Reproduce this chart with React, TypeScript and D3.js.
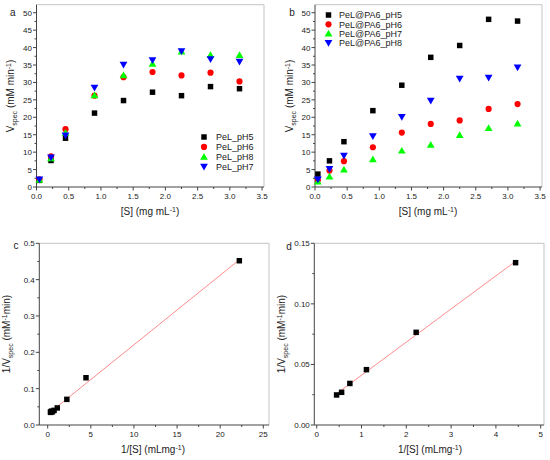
import React from "react";
import * as d3 from "d3";

// ---------- data ----------
const S_CONC = [0.045, 0.225, 0.45, 0.9, 1.35, 1.8, 2.25, 2.7, 3.15];
const A_PH5 = [1.9, 7.6, 14.0, 21.2, 24.8, 27.2, 26.2, 28.8, 28.2];
const A_PH6 = [2.2, 8.8, 16.6, 26.2, 31.5, 33.0, 32.0, 32.8, 30.3];
const A_PH8 = [2.0, 8.2, 15.5, 26.3, 32.0, 35.3, 38.8, 37.8, 37.8];
const A_PH7 = [2.2, 8.5, 14.8, 28.5, 35.1, 36.4, 39.0, 36.7, 36.0];
const B_PH5 = [3.7, 7.5, 13.0, 21.9, 29.2, 37.2, 40.6, 48.1, 47.6];
const B_PH6 = [2.0, 4.7, 7.4, 11.4, 15.6, 18.1, 19.1, 22.4, 23.8];
const B_PH7 = [1.5, 3.0, 5.0, 7.9, 10.4, 12.1, 14.9, 16.9, 18.2];
const B_PH8 = [2.2, 5.2, 9.0, 14.6, 20.1, 24.8, 31.1, 31.4, 34.3];
const C_INV_S = [22.22, 4.44, 2.22, 1.11, 0.74, 0.556, 0.444, 0.37, 0.317];
const C_INV_V = [0.452, 0.13, 0.0706, 0.047, 0.0403, 0.0366, 0.0382, 0.0347, 0.0355];
const D_INV_S = [4.44, 2.22, 1.11, 0.74, 0.556, 0.444];
const D_INV_V = [0.134, 0.0765, 0.0457, 0.0343, 0.027, 0.0248];
const C_FIT_FROM = 0.74;
const D_FIT_FROM = 0.444;

const AB_X_TICKS = [0, 0.5, 1, 1.5, 2, 2.5, 3, 3.5];
const AB_X_LABELS = ["0.0", "0.5", "1.0", "1.5", "2.0", "2.5", "3.0", "3.5"];
const AB_Y_TICKS = [0, 5, 10, 15, 20, 25, 30, 35, 40, 45, 50];
const AB_Y_LABELS = AB_Y_TICKS.map(String);
const C_X_TICKS = [0, 5, 10, 15, 20, 25];
const C_X_LABELS = ["0", "5", "10", "15", "20", "25"];
const C_Y_TICKS = [0, 0.1, 0.2, 0.3, 0.4, 0.5];
const C_Y_LABELS = ["0.0", "0.1", "0.2", "0.3", "0.4", "0.5"];
const D_X_TICKS = [0, 1, 2, 3, 4, 5];
const D_X_LABELS = ["0", "1", "2", "3", "4", "5"];
const D_Y_TICKS = [0, 0.05, 0.1, 0.15];
const D_Y_LABELS = ["0.00", "0.05", "0.10", "0.15"];

const A_NAMES = ["PeL_pH5", "PeL_pH6", "PeL_pH8", "PeL_pH7"];
const B_NAMES = ["PeL@PA6_pH5", "PeL@PA6_pH6", "PeL@PA6_pH7", "PeL@PA6_pH8"];

// ---------- styles ----------
const FONT = "Liberation Sans, Arial, sans-serif";
const TXT = "#222";
const COL = { black: "#000000", red: "#ff0000", green: "#00ff00", blue: "#0000ff" };
const FIT_COL = "#ff8c8c";

type Shape = "square" | "circle" | "up" | "down";
type Series = { xs: number[]; ys: number[]; shape: Shape; color: string; name?: string };

function symbolPath(shape: Shape) {
  if (shape === "square") return d3.symbol(d3.symbolSquare, 30)()!;
  if (shape === "circle") return d3.symbol(d3.symbolCircle, 30)()!;
  return d3.symbol(d3.symbolTriangle, 26)()!;
}

function Marker({ x, y, shape, color }: { x: number; y: number; shape: Shape; color: string }) {
  const rot = shape === "down" ? " rotate(180)" : "";
  const dy = shape === "up" ? 0.6 : shape === "down" ? -0.6 : 0;
  return <path d={symbolPath(shape)} transform={`translate(${x},${y + dy})${rot}`} fill={color} />;
}

function linfit(xs: number[], ys: number[]) {
  const mx = d3.mean(xs)!;
  const my = d3.mean(ys)!;
  let sxy = 0, sxx = 0;
  xs.forEach((x, i) => {
    sxy += (x - mx) * (ys[i] - my);
    sxx += (x - mx) * (x - mx);
  });
  const slope = sxy / sxx;
  return { slope, intercept: my - slope * mx };
}

type PanelProps = {
  frame: [number, number, number, number]; // left, right, top, bottom
  xDomain: [number, number];
  yDomain: [number, number];
  xTicks: number[];
  xLabels: string[];
  yTicks: number[];
  yLabels: string[];
  series: Series[];
  fit?: { from: number; xs: number[]; ys: number[] };
  legend?: { x: number; tx: number; y0: number; dy: number };
};

function Panel(p: PanelProps) {
  const [l, r, t, b] = p.frame;
  const x = d3.scaleLinear().domain(p.xDomain).range([l, r]);
  const y = d3.scaleLinear().domain(p.yDomain).range([b, t]);
  const xMinor = p.xTicks.slice(0, -1).map((v, i) => (v + p.xTicks[i + 1]) / 2);
  const yMinor = p.yTicks.slice(0, -1).map((v, i) => (v + p.yTicks[i + 1]) / 2);
  let fitLine: React.ReactNode = null;
  if (p.fit) {
    const { slope, intercept } = linfit(p.fit.xs, p.fit.ys);
    const xe = d3.max(p.fit.xs)!;
    const line = d3.line<number>().x((v) => x(v)).y((v) => y(slope * v + intercept));
    fitLine = <path d={line([p.fit.from, xe])!} stroke={FIT_COL} strokeWidth={1} fill="none" />;
  }
  return (
    <g>
      <line x1={l} x2={r} y1={t} y2={t} stroke="#c4c4c4" strokeWidth={1} />
      <line x1={r} x2={r} y1={t} y2={b} stroke="#c4c4c4" strokeWidth={1} />
      <line x1={l} x2={r} y1={b} y2={b} stroke="#444" strokeWidth={1} />
      <line x1={l} x2={l} y1={t} y2={b} stroke="#444" strokeWidth={1} />
      {p.xTicks.map((v, i) => (
        <g key={"xt" + i}>
          <line x1={x(v)} x2={x(v)} y1={b} y2={b + 3.5} stroke="#444" />
          <text x={x(v)} y={b + 12} fontSize={8} textAnchor="middle" fill={TXT} fontFamily={FONT}>
            {p.xLabels[i]}
          </text>
        </g>
      ))}
      {xMinor.map((v, i) => (
        <line key={"xm" + i} x1={x(v)} x2={x(v)} y1={b} y2={b + 2} stroke="#444" />
      ))}
      {p.yTicks.map((v, i) => (
        <g key={"yt" + i}>
          <line x1={l - 3.5} x2={l} y1={y(v)} y2={y(v)} stroke="#444" />
          <text x={l - 4.5} y={y(v) + 3} fontSize={8} textAnchor="end" fill={TXT} fontFamily={FONT}>
            {p.yLabels[i]}
          </text>
        </g>
      ))}
      {yMinor.map((v, i) => (
        <line key={"ym" + i} x1={l - 2} x2={l} y1={y(v)} y2={y(v)} stroke="#444" />
      ))}
      {fitLine}
      {p.series.map((s, si) =>
        s.xs.map((xv, i) => (
          <Marker key={si + "-" + i} x={x(xv)} y={y(s.ys[i])} shape={s.shape} color={s.color} />
        ))
      )}
      {p.legend &&
        p.series.map((s, si) => (
          <g key={"lg" + si}>
            <Marker x={p.legend!.x} y={p.legend!.y0 + si * p.legend!.dy} shape={s.shape} color={s.color} />
            <text
              x={p.legend!.tx}
              y={p.legend!.y0 + si * p.legend!.dy + 3.3}
              fontSize={9}
              fill={TXT}
              fontFamily={FONT}
            >
              {s.name}
            </text>
          </g>
        ))}
    </g>
  );
}

function VTitle({ x, y }: { x: number; y: number }) {
  return (
    <text transform={`translate(${x},${y}) rotate(-90)`} textAnchor="middle" fontSize={10} fill={TXT} fontFamily={FONT}>
      V<tspan fontSize={7} dy={2.5}>spec</tspan>
      <tspan dy={-2.5}> (mM min</tspan>
      <tspan fontSize={7} dy={-3.5}>-1</tspan>
      <tspan dy={3.5}>)</tspan>
    </text>
  );
}

function InvVTitle({ x, y }: { x: number; y: number }) {
  return (
    <text transform={`translate(${x},${y}) rotate(-90)`} textAnchor="middle" fontSize={10} fill={TXT} fontFamily={FONT}>
      1/V<tspan fontSize={7} dy={2.5}>spec</tspan>
      <tspan dy={-2.5}> (mM</tspan>
      <tspan fontSize={7} dy={-3.5}>-1</tspan>
      <tspan dy={3.5}>min)</tspan>
    </text>
  );
}

function STitle({ x, y }: { x: number; y: number }) {
  return (
    <text x={x} y={y} textAnchor="middle" fontSize={10} fill={TXT} fontFamily={FONT}>
      [S] (mg mL<tspan fontSize={7} dy={-3.5}>-1</tspan>
      <tspan dy={3.5}>)</tspan>
    </text>
  );
}

function InvSTitle({ x, y }: { x: number; y: number }) {
  return (
    <text x={x} y={y} textAnchor="middle" fontSize={10} fill={TXT} fontFamily={FONT}>
      1/[S] (mLmg<tspan fontSize={7} dy={-3.5}>-1</tspan>
      <tspan dy={3.5}>)</tspan>
    </text>
  );
}

function Letter({ x, y, s }: { x: number; y: number; s: string }) {
  return (
    <text x={x} y={y} fontSize={10} textAnchor="middle" fill={TXT} fontFamily={FONT}>
      {s}
    </text>
  );
}

export default function App() {
  const aSeries: Series[] = [
    { xs: S_CONC, ys: A_PH5, shape: "square", color: COL.black, name: A_NAMES[0] },
    { xs: S_CONC, ys: A_PH6, shape: "circle", color: COL.red, name: A_NAMES[1] },
    { xs: S_CONC, ys: A_PH8, shape: "up", color: COL.green, name: A_NAMES[2] },
    { xs: S_CONC, ys: A_PH7, shape: "down", color: COL.blue, name: A_NAMES[3] },
  ];
  const bSeries: Series[] = [
    { xs: S_CONC, ys: B_PH5, shape: "square", color: COL.black, name: B_NAMES[0] },
    { xs: S_CONC, ys: B_PH6, shape: "circle", color: COL.red, name: B_NAMES[1] },
    { xs: S_CONC, ys: B_PH7, shape: "up", color: COL.green, name: B_NAMES[2] },
    { xs: S_CONC, ys: B_PH8, shape: "down", color: COL.blue, name: B_NAMES[3] },
  ];
  return (
    <svg
      width={550}
      height={460}
      viewBox="0 0 550 460"
      style={{ position: "absolute", left: 0, top: 0, background: "#fff" }}
    >
      <rect width={550} height={460} fill="#fff" />
      {/* panel a */}
      <Panel
        frame={[36.5, 264, 4.7, 187]}
        xDomain={[0, 3.53]}
        yDomain={[0, 52.3]}
        xTicks={AB_X_TICKS}
        xLabels={AB_X_LABELS}
        yTicks={AB_Y_TICKS}
        yLabels={AB_Y_LABELS}
        series={aSeries}
        legend={{ x: 204, tx: 216, y0: 137, dy: 9.9 }}
      />
      <Letter x={12.7} y={15.5} s="a" />
      <VTitle x={14} y={96} />
      <STitle x={150} y={215} />
      {/* panel b */}
      <Panel
        frame={[315, 542, 4.7, 187]}
        xDomain={[0, 3.53]}
        yDomain={[0, 52.3]}
        xTicks={AB_X_TICKS}
        xLabels={AB_X_LABELS}
        yTicks={AB_Y_TICKS}
        yLabels={AB_Y_LABELS}
        series={bSeries}
        legend={{ x: 328.5, tx: 339, y0: 15, dy: 9.3 }}
      />
      <Letter x={292} y={15.5} s="b" />
      <VTitle x={293} y={96} />
      <STitle x={428} y={215} />
      {/* panel c */}
      <Panel
        frame={[39.3, 269, 243.3, 425]}
        xDomain={[-0.974, 25.66]}
        yDomain={[0, 0.5]}
        xTicks={C_X_TICKS}
        xLabels={C_X_LABELS}
        yTicks={C_Y_TICKS}
        yLabels={C_Y_LABELS}
        series={[{ xs: C_INV_S, ys: C_INV_V, shape: "square", color: COL.black }]}
        fit={{ from: C_FIT_FROM, xs: C_INV_S, ys: C_INV_V }}
      />
      <Letter x={16} y={248.5} s="c" />
      <InvVTitle x={10} y={334} />
      <InvSTitle x={153} y={453} />
      {/* panel d */}
      <Panel
        frame={[314.3, 544, 243.3, 425]}
        xDomain={[-0.054, 5.074]}
        yDomain={[0, 0.15]}
        xTicks={D_X_TICKS}
        xLabels={D_X_LABELS}
        yTicks={D_Y_TICKS}
        yLabels={D_Y_LABELS}
        series={[{ xs: D_INV_S, ys: D_INV_V, shape: "square", color: COL.black }]}
        fit={{ from: D_FIT_FROM, xs: D_INV_S, ys: D_INV_V }}
      />
      <Letter x={289} y={250} s="d" />
      <InvVTitle x={285} y={334} />
      <InvSTitle x={430} y={453} />
    </svg>
  );
}
